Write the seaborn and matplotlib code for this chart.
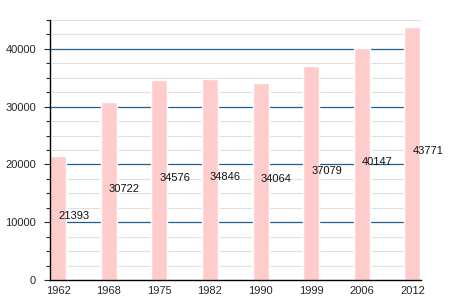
import matplotlib
matplotlib.use("Agg")
import matplotlib.pyplot as plt
import seaborn as sns
import pandas as pd
import numpy as np
from matplotlib.ticker import MultipleLocator

years = ["1962", "1968", "1975", "1982", "1990", "1999", "2006", "2012"]
population = [21393, 30722, 34576, 34846, 34064, 37079, 40147, 43771]

sns.set_style("white")
plt.rcParams['font.family'] = ['Liberation Sans', 'DejaVu Sans']

df = pd.DataFrame({"year": years, "pop": population})

fig = plt.figure(figsize=(4.5, 3), dpi=100)
ax = fig.add_axes([50/450, 20/300, (421-50)/450, 260/300])

for v in np.arange(2500, 45001, 2500):
    if v % 10000 == 0:
        continue
    ax.axhline(v, color="#e0e0e0", lw=0.8, zorder=0)
for v in np.arange(10000, 45000, 10000):
    ax.axhline(v, color="#1f6090", lw=0.9, zorder=0)

sns.barplot(data=df, x="year", y="pop", color="#ffcccc", saturation=1,
            width=0.316, ax=ax, zorder=2)

for i, v in enumerate(population):
    ax.text(i, v / 2 + 400, str(v), ha="left", va="center", fontsize=8,
            color="#111111", zorder=3)

ax.set_xlim(-0.16, 7.17)
ax.set_ylim(0, 45000)
ax.yaxis.set_major_locator(MultipleLocator(10000))
ax.yaxis.set_minor_locator(MultipleLocator(2500))
ax.set_xlabel("")
ax.set_ylabel("")
for s in ["top", "right"]:
    ax.spines[s].set_visible(False)
ax.spines["left"].set_color("black")
ax.spines["bottom"].set_color("black")
ax.spines["left"].set_linewidth(1)
ax.spines["bottom"].set_linewidth(1)
ax.tick_params(axis="y", which="major", left=True, length=4, width=0.8,
               labelsize=8, pad=6)
ax.tick_params(axis="y", which="minor", left=True, length=3, width=0.8)
ax.tick_params(axis="x", bottom=False, labelsize=8, pad=1)

fig.savefig("out.png", dpi=100)
